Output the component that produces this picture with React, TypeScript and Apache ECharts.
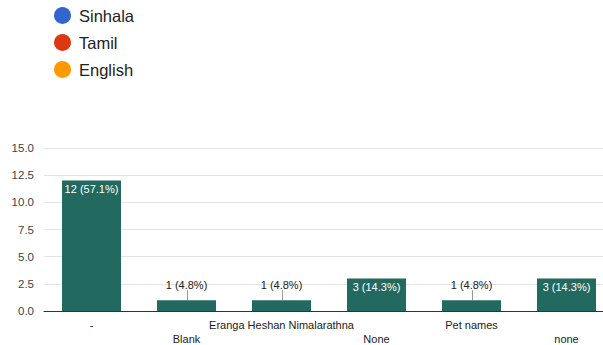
import React, { useEffect, useRef } from "react";
import * as echarts from "echarts";

// Answer categories and response counts
const categories = ["-", "Blank", "Eranga Heshan Nimalarathna", "None", "Pet names", "none"];
const counts = [12, 1, 1, 3, 1, 3];

// Legend entries (languages)
const legendNames = ["Sinhala", "Tamil", "English"];
const legendColors = ["#3366cc", "#dc3912", "#ff9900"];

const BAR_COLOR = "#22695f";
const FONT = "Arial, 'Liberation Sans', Helvetica, sans-serif";

export default function App() {
  const ref = useRef<HTMLDivElement>(null);

  useEffect(() => {
    if (!ref.current) return;
    const chart = echarts.init(ref.current, undefined, { renderer: "svg" });
    const total = counts.reduce((a, b) => a + b, 0);
    const labelText = (v: number) => `${v} (${((v / total) * 100).toFixed(1)}%)`;

    const barData = counts.map((v) => {
      const inside = v >= 2;
      return {
        value: v,
        label: inside
          ? { show: true, position: "insideTop", distance: 3, color: "#ffffff" }
          : { show: true, position: "top", distance: 10, color: "#222222" },
      };
    });

    chart.setOption({
      animation: false,
      textStyle: { fontFamily: FONT },
      legend: {
        orient: "vertical",
        left: 54,
        top: 7,
        padding: 0,
        itemWidth: 17,
        itemHeight: 17,
        itemGap: 10,
        icon: "circle",
        data: legendNames,
        textStyle: { fontSize: 16.5, color: "#222222", fontFamily: FONT, padding: [0, 0, 0, 3] },
      },
      grid: {
        left: 44,
        top: 148,
        height: 163,
        width: 570,
        containLabel: false,
        outerBoundsMode: "none",
      },
      xAxis: {
        type: "category",
        data: categories,
        axisLine: { lineStyle: { color: "#333333", width: 1 } },
        axisTick: { show: false },
        axisLabel: {
          interval: 0,
          margin: 7,
          fontSize: 11,
          lineHeight: 14,
          color: "#222222",
          fontFamily: FONT,
          formatter: (val: string, idx: number) => (idx % 2 === 1 ? "\n" + val : val),
        },
      },
      yAxis: {
        type: "value",
        min: 0,
        max: 15,
        interval: 2.5,
        axisLine: { show: false },
        axisTick: { show: false },
        splitLine: { lineStyle: { color: "#e4e4e4", width: 1 } },
        axisLabel: {
          margin: 10,
          fontSize: 11.5,
          color: "#444444",
          fontFamily: FONT,
          formatter: (v: number) => v.toFixed(1),
        },
      },
      series: [
        {
          type: "bar",
          data: barData,
          barWidth: 59,
          itemStyle: { color: BAR_COLOR },
          label: {
            fontSize: 11,
            fontFamily: FONT,
            formatter: (p: any) => labelText(p.value),
          },
        },
        // Leader lines from outside labels down to short bars
        {
          type: "custom",
          silent: true,
          data: counts.map((v, i) => [i, v]),
          renderItem: (params: any, api: any) => {
            const v = api.value(1);
            if (v >= 2) return null;
            const pt = api.coord([api.value(0), v]);
            const x = Math.round(pt[0]) + 0.5;
            return {
              type: "line",
              shape: { x1: x, y1: pt[1] - 10, x2: x, y2: pt[1] },
              style: { stroke: "#999999", lineWidth: 1 },
            };
          },
        },
        ...legendNames.map((name, i) => ({
          name,
          type: "line",
          data: [],
          itemStyle: { color: legendColors[i] },
          lineStyle: { color: legendColors[i] },
        })),
      ],
    });

    return () => chart.dispose();
  }, []);

  return (
    <div
      ref={ref}
      style={{ position: "absolute", left: 0, top: 0, width: 603, height: 345, background: "#ffffff" }}
    />
  );
}
